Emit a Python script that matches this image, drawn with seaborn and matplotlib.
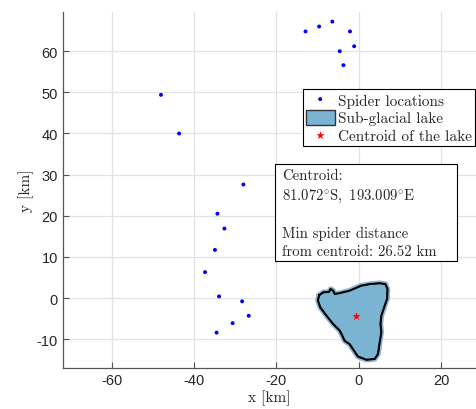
import numpy as np
import pandas as pd
import matplotlib
matplotlib.use('Agg')
import matplotlib.pyplot as plt
from matplotlib.patches import Rectangle
import seaborn as sns

# spider positions (km)
spider_x = [-12.9, -9.6, -6.4, -2.1, -1.1, -4.6, -3.7, -48.0, -43.6,
            -28.0, -34.3, -32.6, -34.9, -37.3, -33.9, -28.3, -26.7, -30.6, -34.5]
spider_y = [64.8, 66.0, 67.2, 64.8, 61.2, 60.0, 56.6, 49.4, 40.0,
            27.6, 20.5, 16.9, 11.7, 6.3, 0.4, -0.8, -4.3, -6.1, -8.4]

# lake outline (km)
lake_x = [-9.6, -8.6, -7.2, -6.8, -6.2, -5.8, -4.6, -2.2, 0.6, 2.7, 5.1, 6.5, 7.0,
          6.9, 6.3, 5.5, 5.3, 5.5, 5.1, 4.7, 3.9, 1.9, -0.2, -1.4, -2.2, -3.4,
          -4.0, -4.6, -6.2, -7.8, -9.3, -9.9]
lake_y = [0.7, 1.4, 1.5, 2.2, 1.8, 1.0, 1.2, 1.8, 3.0, 3.4, 3.6, 3.4, 2.2,
          -0.2, -1.9, -4.3, -6.3, -8.3, -10.8, -13.6, -14.8, -15.0, -14.2, -12.4, -11.2, -10.4,
          -9.1, -7.9, -6.3, -4.3, -2.3, -0.6]

centroid_x = [-0.6]
centroid_y = [-4.4]

info_text = ("Centroid:\n"
             r"$\mathrm{81.072^{\circ}S,\ 193.009^{\circ}E}$"
             "\n\nMin spider distance\nfrom centroid: 26.52 km")

sns.set_style('whitegrid')
plt.rcParams['mathtext.fontset'] = 'cm'
plt.rcParams['axes.unicode_minus'] = False
serif = ['cmr10', 'DejaVu Serif']

fig = plt.figure(figsize=(4.77, 4.10), dpi=100)
ax = fig.add_axes([0.132, 0.10, 0.866, 0.868])

spiders = pd.DataFrame({'x': spider_x, 'y': spider_y})
sns.scatterplot(data=spiders, x='x', y='y', color='blue', s=8, edgecolor='none',
                label='Spider locations', ax=ax, zorder=3)

lx = lake_x + lake_x[:1]
ly = lake_y + lake_y[:1]
ax.plot(lx, ly, color='#2f7fb8', lw=4, alpha=0.55, zorder=2)
ax.fill(lx, ly, facecolor='#7ab4d2', edgecolor='#333333', lw=1.0,
        label='Sub-glacial lake', zorder=2)
ax.plot(lx, ly, color='black', lw=1.5, zorder=2)

cen = pd.DataFrame({'x': centroid_x, 'y': centroid_y})
sns.scatterplot(data=cen, x='x', y='y', color='red', marker='*', s=28,
                edgecolor='red', linewidth=0.3, label='Centroid of the lake', ax=ax, zorder=4)

ax.set_xlim(-71.8, 28.5)
ax.set_ylim(-17.0, 69.5)
ax.set_xticks([-60, -40, -20, 0, 20])
ax.set_yticks([-10, 0, 10, 20, 30, 40, 50, 60])

ax.grid(True, color='#e3e3e3', lw=0.9)
for s in ['top', 'right']:
    ax.spines[s].set_visible(False)
for s in ['left', 'bottom']:
    ax.spines[s].set_visible(True)
    ax.spines[s].set_color('#555555')
    ax.spines[s].set_linewidth(0.9)
ax.tick_params(direction='in', length=4, width=0.8, color='#555555',
               labelsize=10.5, labelcolor='#262626', left=True, bottom=True)
for t in ax.get_xticklabels() + ax.get_yticklabels():
    t.set_family('Liberation Sans')

ax.set_xlabel('x [km]', family=serif, fontsize=11, labelpad=2)
ax.set_ylabel('y [km]', family=serif, fontsize=11, labelpad=2)

leg = ax.legend(loc='upper right', bbox_to_anchor=(0.997, 0.784), frameon=True,
                fancybox=False, edgecolor='black', framealpha=1,
                prop={'family': serif, 'size': 11}, handlelength=1.9, handleheight=1.1,
                handletextpad=0.2, borderpad=0.2, labelspacing=0.15, borderaxespad=0)
leg.get_frame().set_linewidth(0.8)

# annotation box (MATLAB-style fixed-size textbox)
ax.add_patch(Rectangle((0.513, 0.3006), 0.441, 0.2724, transform=ax.transAxes,
                       fc='white', ec='black', lw=0.8, zorder=5))
ax.text(0.530, 0.560, info_text, transform=ax.transAxes, family=serif,
        fontsize=10.6, va='top', ha='left', linespacing=1.38, zorder=6)

fig.savefig('out.png', dpi=100)
